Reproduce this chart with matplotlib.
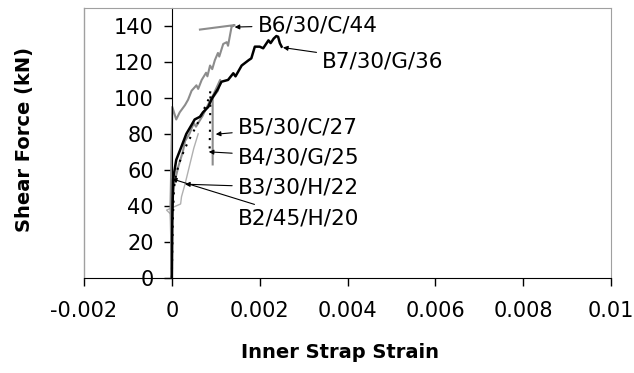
import matplotlib.pyplot as plt

plt.rcParams['font.family'] = ['DejaVu Sans']

# strain / shear force
b6_x = [0, -0.00003, 0.00001, 0.0001, 0.00018, 0.0003, 0.00037, 0.00045, 0.00056, 0.0006,
        0.00068, 0.00078, 0.00081, 0.00087, 0.00092, 0.00098, 0.00105, 0.00108, 0.00117,
        0.00125, 0.00128, 0.00136, 0.00143, 0.00064]
b6_y = [0, 40, 95, 88, 92, 96, 99, 104, 107, 105, 110, 114, 112, 118, 116, 121, 125, 123,
        130, 131, 129, 139.5, 140.5, 138]

b7_x = [0, 0.00001, 0.00003, 0.0001, 0.00022, 0.00033, 0.00045, 0.00052, 0.00064, 0.00071,
        0.00083, 0.0009, 0.00094, 0.00105, 0.00113, 0.00128, 0.0014, 0.00145, 0.00159,
        0.00175, 0.00181, 0.00189, 0.002, 0.00208, 0.0022, 0.00225, 0.00232, 0.00238,
        0.00242, 0.00246, 0.0025]
b7_y = [0, 30, 55, 65.5, 73, 80, 85, 88, 89.5, 92, 95, 99, 100.7, 105, 109, 110, 113.7, 112,
        118, 121, 122, 128.5, 128.5, 127.6, 132, 130.5, 133, 134.4, 134, 130.4, 128.5]

b5_x = [0, -0.00002, 0.00005, 0.00015, 0.00025, 0.0003, 0.0004, 0.0005, 0.00055, 0.0007,
        0.0008, 0.00095, 0.0011, 0.00105, 0.00093, 0.00093]
b5_y = [0, 35, 52, 62, 70, 76, 80, 86, 84, 90, 95, 102, 110, 104, 100, 63]

b4_x = [0, 0.00002, 0.00005, 0.0001, 0.0002, 0.0003, 0.0004, 0.00055, 0.0007, 0.00085,
        0.00088, 0.00087, 0.00086]
b4_y = [0, 30, 50, 58, 66, 72, 77, 84, 92, 100, 104, 85, 70]

b3_x = [0, -0.00001, -0.00012, 0.0002, 0.00022, 0.0003, 0.0004, 0.0005, 0.0006]
b3_y = [0, 35, 37.6, 41, 45, 52, 62, 72, 80]

b2_x = [0, 0.00001, 0.00002]
b2_y = [0, 40, 56]

# label text, text position, arrow target
labels = ['B6/30/C/44', 'B7/30/G/36', 'B5/30/C/27', 'B4/30/G/25', 'B3/30/H/22', 'B2/45/H/20']
label_xy = [(0.00195, 140.5), (0.00342, 120), (0.0015, 83.8), (0.0015, 67.1),
            (0.0015, 50), (0.0015, 33.2)]
arrow_xy = [(0.00143, 139.4), (0.00253, 128), (0.001, 79.8), (0.00084, 70),
            (0.0003, 52), (0.0, 55)]

xticks = [-0.002, 0, 0.002, 0.004, 0.006, 0.008, 0.01]
xticklabels = ['-0.002', '0', '0.002', '0.004', '0.006', '0.008', '0.01']
yticks = [0, 20, 40, 60, 80, 100, 120, 140]

fig = plt.figure(figsize=(6.34, 3.73), dpi=100)
ax = fig.add_axes([84 / 634, 1 - 277.7 / 373, (611 - 84) / 634, (277.7 - 8) / 373])

ax.plot(b3_x, b3_y, color='#b0b0b0', lw=1.0)
ax.plot(b5_x, b5_y, color='#8c8c8c', lw=1.5)
ax.plot(b6_x, b6_y, color='#8c8c8c', lw=1.5)
ax.plot(b4_x, b4_y, color='black', lw=1.5, ls=(0, (1, 3)))
ax.plot(b2_x, b2_y, color='black', lw=1.0)
ax.plot(b7_x, b7_y, color='black', lw=1.8)

for txt, pos, tgt in zip(labels, label_xy, arrow_xy):
    ax.annotate(txt, xy=tgt, xytext=pos, ha='left', va='center', fontsize=15.5,
                arrowprops=dict(arrowstyle='-|>', color='black', lw=0.8,
                                mutation_scale=7, shrinkA=2, shrinkB=0))

ax.set_xlim(-0.002, 0.01)
ax.set_ylim(0, 150)
ax.set_xticks(xticks)
ax.set_xticklabels(xticklabels)
ax.set_yticks(yticks)

ax.spines['left'].set_position(('data', 0))
ax.spines['left'].set_color('black')
ax.spines['bottom'].set_color('black')
ax.spines['top'].set_color('#a0a0a0')
ax.spines['right'].set_color('#a0a0a0')
ax.plot([0, 0], [0, 1], transform=ax.transAxes, color='#a0a0a0', lw=1, clip_on=False)

ax.tick_params(axis='y', direction='out', length=6, width=1, pad=7, labelsize=15)
ax.tick_params(axis='x', direction='out', length=6, width=1, pad=11, labelsize=15)

fig.text(25 / 634, 1 - 140 / 373, 'Shear Force (kN)', rotation=90, ha='center', va='center',
         fontsize=14, fontweight='bold')
fig.text(340 / 634, 1 - 352 / 373, 'Inner Strap Strain', ha='center', va='center',
         fontsize=14, fontweight='bold')

fig.savefig('out.png', dpi=100)
